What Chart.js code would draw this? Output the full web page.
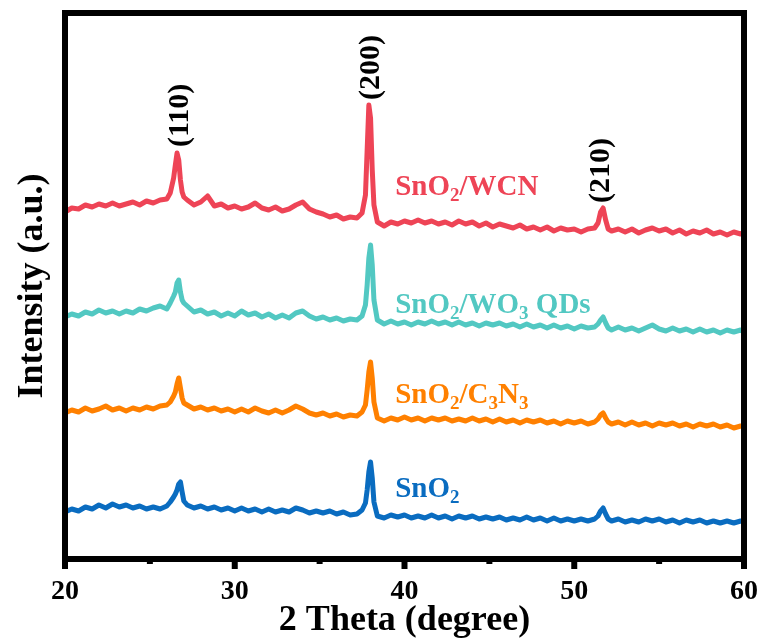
<!DOCTYPE html>
<html>
<head>
<meta charset="utf-8">
<script src="https://cdn.jsdelivr.net/npm/chart.js@4.4.0/dist/chart.umd.min.js"></script>
<style>
  html, body { margin: 0; padding: 0; background: #fff; overflow: hidden; }
  #wrap { position: relative; width: 765px; height: 644px; }
  #xrdChart { display: block; }
</style>
</head>
<body>
<div id="wrap"><canvas id="xrdChart"></canvas></div>
<script>
// 2 theta (degree) sample points, shared by all patterns
const twoTheta = [
  20.0, 20.4, 20.8, 21.2, 21.6, 22.0, 22.4, 22.8, 23.2, 23.6,
  24.0, 24.4, 24.8, 25.2, 25.6, 26.0, 26.2, 26.4, 26.5, 26.6,
  26.7, 26.8, 26.9, 27.0, 27.2, 27.6, 28.0, 28.4, 28.8, 29.2,
  29.6, 30.0, 30.4, 30.8, 31.2, 31.6, 32.0, 32.4, 32.8, 33.2,
  33.6, 34.0, 34.4, 34.8, 35.2, 35.6, 36.0, 36.4, 36.8, 37.2,
  37.5, 37.7, 37.8, 37.9, 38.0, 38.1, 38.2, 38.4, 38.8, 39.2,
  39.6, 40.0, 40.4, 40.8, 41.2, 41.6, 42.0, 42.4, 42.8, 43.2,
  43.6, 44.0, 44.4, 44.8, 45.2, 45.6, 46.0, 46.4, 46.8, 47.2,
  47.6, 48.0, 48.4, 48.8, 49.2, 49.6, 50.0, 50.4, 50.8, 51.2,
  51.4, 51.55, 51.7, 51.85, 52.0, 52.2, 52.6, 53.0, 53.4, 53.8,
  54.2, 54.6, 55.0, 55.4, 55.8, 56.2, 56.6, 57.0, 57.4, 57.8,
  58.2, 58.6, 59.0, 59.4, 59.8, 60.0
];

// intensities (a.u.), already stacked with the offsets used in the figure
const snO2WCN = [
  3470, 3510, 3500, 3540, 3520, 3550, 3530, 3560, 3530, 3550,
  3570, 3540, 3580, 3560, 3590, 3600, 3660, 3810, 3940, 4060,
  3990, 3790, 3670, 3620, 3590, 3540, 3570, 3630, 3530, 3550,
  3510, 3530, 3500, 3520, 3560, 3510, 3490, 3520, 3480, 3500,
  3540, 3570, 3500, 3470, 3450, 3420, 3440, 3400, 3420, 3410,
  3460, 3640, 4090, 4540, 4410, 3890, 3540, 3370, 3330, 3370,
  3350, 3380, 3360, 3390, 3360, 3380, 3350, 3370, 3340, 3380,
  3350, 3370, 3330, 3360, 3320, 3350, 3330, 3310, 3340, 3300,
  3320, 3290, 3320, 3280, 3310, 3290, 3300, 3270, 3300, 3310,
  3360, 3470, 3510, 3390, 3300, 3280, 3300, 3270, 3300, 3260,
  3290, 3310, 3280, 3300, 3260, 3290, 3250, 3280, 3260, 3290,
  3250, 3270, 3240, 3270, 3250, 3260
];

const snO2WO3 = [
  2420, 2450, 2430, 2470, 2450, 2490, 2460, 2480, 2450, 2480,
  2460, 2500, 2480, 2510, 2530, 2500, 2560, 2630, 2670, 2760,
  2790, 2670, 2590, 2560, 2530, 2470, 2490, 2450, 2470, 2430,
  2460, 2430, 2480, 2440, 2460, 2420, 2450, 2410, 2440, 2410,
  2460, 2480, 2430, 2400, 2420, 2390, 2410, 2380, 2400, 2390,
  2430, 2540, 2740, 3010, 3140, 2940, 2590, 2390, 2350, 2380,
  2350, 2370, 2340, 2370, 2350, 2380, 2350, 2370, 2340, 2370,
  2340, 2360, 2330, 2360, 2340, 2360, 2330, 2350, 2320, 2350,
  2320, 2340, 2310, 2340, 2310, 2330, 2300, 2330, 2310, 2320,
  2350, 2390, 2420, 2360, 2310, 2290, 2320, 2290, 2310, 2280,
  2310, 2340, 2300, 2280, 2310, 2280, 2300, 2270, 2300, 2270,
  2290, 2260, 2290, 2270, 2290, 2270
];

const snO2C3N3 = [
  1460, 1490, 1470, 1510, 1480, 1500, 1530, 1490, 1510, 1480,
  1510, 1490, 1520, 1500, 1530, 1540, 1570, 1630, 1670, 1750,
  1810, 1710, 1610, 1560, 1540, 1500, 1520, 1490, 1510, 1480,
  1500, 1470, 1500, 1470, 1510, 1480, 1460, 1490, 1460, 1490,
  1530, 1500, 1460, 1440, 1460, 1430, 1450, 1420, 1440, 1430,
  1470, 1540, 1690, 1870, 1970, 1810, 1570, 1410, 1380, 1410,
  1390, 1420, 1390, 1410, 1380, 1410, 1390, 1410, 1380, 1400,
  1380, 1410, 1380, 1400, 1370, 1400, 1370, 1390, 1360, 1390,
  1370, 1390, 1360, 1380, 1350, 1380, 1360, 1380, 1350, 1370,
  1400, 1440, 1460, 1410, 1370, 1350, 1370, 1340, 1370, 1340,
  1360, 1330, 1360, 1340, 1360, 1330, 1350, 1320, 1350, 1330,
  1350, 1320, 1340, 1310, 1330, 1320
];

const snO2 = [
  470, 500, 480, 520, 500, 540, 510, 550, 520, 540,
  510, 530, 500, 520, 500, 530, 570, 620, 650, 690,
  750, 770, 670, 580, 540, 510, 530, 500, 520, 490,
  510, 480, 510, 480, 500, 470, 500, 470, 490, 470,
  510, 490, 460, 480, 460, 480, 450, 470, 440, 450,
  490, 560, 690, 870, 970, 810, 570, 430, 410, 440,
  420, 440, 410, 430, 410, 440, 410, 430, 400, 430,
  410, 430, 400, 420, 400, 420, 390, 410, 390, 420,
  390, 410, 380, 410, 380, 400, 380, 400, 380, 400,
  430, 480, 510, 450, 400, 380, 400, 370, 390, 370,
  400, 380, 400, 370, 390, 360, 390, 370, 390, 360,
  380, 360, 380, 360, 380, 370
];

const xTicks = [20, 30, 40, 50, 60];
const peakLabels = ["(110)", "(200)", "(210)"];
const peakAngles = [26.8, 38.05, 51.6];
const peakLabelBase = [4120, 4590, 3560];

const seriesNames = [
  ["SnO", "2", "/WCN"],
  ["SnO", "2", "/WO", "3", " QDs"],
  ["SnO", "2", "/C", "3", "N", "3"],
  ["SnO", "2"]
];
const seriesColors = ["#EE4456", "#52C8C2", "#FF8000", "#0A6CC0"];
const nameBaseline = [3640, 2460, 1560, 620];

const SERIF = '"Liberation Serif", "Times New Roman", serif';

function toPoints(values) {
  return twoTheta.map((t, i) => ({ x: t, y: values[i] }));
}

// frame, ticks and in-plot text
const decorPlugin = {
  id: "decor",
  afterDraw(chart) {
    const { ctx, chartArea: a, scales: { x, y } } = chart;
    ctx.save();

    // minor/major tick marks below the bottom axis
    ctx.strokeStyle = "#000";
    ctx.lineWidth = 6;
    for (let v = 20; v <= 60; v += 5) {
      const px = x.getPixelForValue(v);
      const len = v % 10 === 0 ? 10 : 5;
      ctx.beginPath();
      ctx.moveTo(px, a.bottom);
      ctx.lineTo(px, a.bottom + len);
      ctx.stroke();
    }

    ctx.strokeRect(a.left, a.top, a.right - a.left, a.bottom - a.top);

    // hkl labels, rotated
    ctx.fillStyle = "#000";
    ctx.font = "bold 30px " + SERIF;
    ctx.textAlign = "left";
    ctx.textBaseline = "middle";
    peakLabels.forEach((txt, i) => {
      ctx.save();
      ctx.translate(x.getPixelForValue(peakAngles[i]), y.getPixelForValue(peakLabelBase[i]));
      ctx.rotate(-Math.PI / 2);
      ctx.fillText(txt, 0, 0);
      ctx.restore();
    });

    // sample names with subscripts
    ctx.textBaseline = "alphabetic";
    seriesNames.forEach((parts, i) => {
      let px = x.getPixelForValue(39.45);
      const py = y.getPixelForValue(nameBaseline[i]);
      ctx.fillStyle = seriesColors[i];
      parts.forEach(p => {
        const sub = /^[0-9]$/.test(p);
        ctx.font = sub ? "bold 19px " + SERIF : "bold 29px " + SERIF;
        ctx.fillText(p, px, sub ? py + 6 : py);
        px += ctx.measureText(p).width;
      });
    });

    ctx.restore();
  }
};

const ctx = document.getElementById("xrdChart").getContext("2d");
new Chart(ctx, {
  type: "line",
  data: {
    datasets: [
      { label: "SnO2/WCN", data: toPoints(snO2WCN), borderColor: seriesColors[0] },
      { label: "SnO2/WO3 QDs", data: toPoints(snO2WO3), borderColor: seriesColors[1] },
      { label: "SnO2/C3N3", data: toPoints(snO2C3N3), borderColor: seriesColors[2] },
      { label: "SnO2", data: toPoints(snO2), borderColor: seriesColors[3] }
    ]
  },
  options: {
    responsive: true,
    maintainAspectRatio: false,
    devicePixelRatio: 1,
    animation: false,
    layout: { padding: { left: 0, right: 21, top: 13, bottom: 0 } },
    elements: {
      line: { borderWidth: 5, tension: 0, borderJoinStyle: "round", borderCapStyle: "round" },
      point: { radius: 0 }
    },
    plugins: { legend: { display: false }, tooltip: { enabled: false } },
    scales: {
      x: {
        type: "linear",
        min: 20,
        max: 60,
        afterFit: s => {
          s.height = 85;
          s.paddingLeft = 0;
          s.paddingRight = 0;
        },
        afterBuildTicks: s => { s.ticks = xTicks.map(v => ({ value: v })); },
        grid: { display: false, drawTicks: false },
        border: { display: false },
        ticks: {
          color: "#000",
          padding: 16,
          maxRotation: 0,
          font: { family: SERIF, size: 28, weight: "bold" }
        },
        title: {
          display: true,
          text: "2 Theta (degree)",
          color: "#000",
          padding: { top: 0, bottom: 2 },
          font: { family: SERIF, size: 36, weight: "bold" }
        }
      },
      y: {
        min: 0,
        max: 5460,
        afterFit: s => { s.width = 65; },
        grid: { display: false, drawTicks: false },
        border: { display: false },
        ticks: { display: false },
        title: {
          display: true,
          text: "Intensity (a.u.)",
          color: "#000",
          padding: { top: 11, bottom: 0 },
          font: { family: SERIF, size: 36, weight: "bold" }
        }
      }
    }
  },
  plugins: [decorPlugin]
});
</script>
</body>
</html>
